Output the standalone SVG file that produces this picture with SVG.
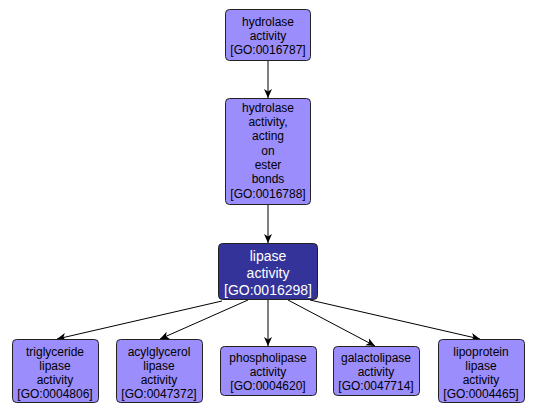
<svg xmlns="http://www.w3.org/2000/svg" width="538" height="414" viewBox="0 0 538 414">
<defs>
<marker id="ah" markerWidth="10" markerHeight="10" refX="9" refY="5" orient="auto" markerUnits="userSpaceOnUse">
<path d="M0,1 L9,5 L0,9 L2.5,5 Z" fill="#000"/>
</marker>
<style>
.n rect{fill:#9b8dfc;stroke:#222;stroke-width:1}
.d rect{fill:#33339a;stroke:#222;stroke-width:1}
text{font-family:"Liberation Sans",Arial,sans-serif;font-size:12px;text-anchor:middle;fill:#000}
.d text{fill:#fff;font-size:14px}
.e line{stroke:#000;stroke-width:1;marker-end:url(#ah)}
</style>
</defs>
<rect width="538" height="414" fill="#fff"/>
<g class="e" id="edges">
<line x1="268" y1="61" x2="268" y2="98"/>
<line x1="268" y1="205" x2="268" y2="243"/>
<line x1="222" y1="301" x2="57" y2="339"/>
<line x1="248" y1="300" x2="160" y2="339"/>
<line x1="268" y1="300" x2="268" y2="346"/>
<line x1="288" y1="300" x2="375" y2="346"/>
<line x1="310" y1="300" x2="480" y2="339"/>
</g>
<g class="n" id="GO0016787">
<rect x="225.5" y="9.5" width="85" height="51" rx="4"/>
<text x="268" y="26">hydrolase</text>
<text x="268" y="40">activity</text>
<text x="268" y="54">[GO:0016787]</text>
</g>
<g class="n" id="GO0016788">
<rect x="225.5" y="98.5" width="85" height="106" rx="4"/>
<text x="268" y="112">hydrolase</text>
<text x="268" y="126">activity,</text>
<text x="268" y="140">acting</text>
<text x="268" y="155">on</text>
<text x="268" y="169">ester</text>
<text x="268" y="183">bonds</text>
<text x="268" y="198">[GO:0016788]</text>
</g>
<g class="d" id="GO0016298">
<rect x="218.5" y="243.5" width="99" height="56" rx="4"/>
<text x="268" y="261">lipase</text>
<text x="268" y="278">activity</text>
<text x="268" y="295">[GO:0016298]</text>
</g>
<g class="n" id="GO0004806">
<rect x="12.5" y="339.5" width="86" height="63" rx="4"/>
<text x="55" y="356">triglyceride</text>
<text x="55" y="370">lipase</text>
<text x="55" y="384">activity</text>
<text x="55" y="398">[GO:0004806]</text>
</g>
<g class="n" id="GO0047372">
<rect x="116.5" y="339.5" width="86" height="63" rx="4"/>
<text x="159" y="356">acylglycerol</text>
<text x="159" y="370">lipase</text>
<text x="159" y="384">activity</text>
<text x="159" y="398">[GO:0047372]</text>
</g>
<g class="n" id="GO0004620">
<rect x="220.5" y="346.5" width="96" height="49" rx="4"/>
<text x="268" y="362">phospholipase</text>
<text x="268" y="376">activity</text>
<text x="268" y="390">[GO:0004620]</text>
</g>
<g class="n" id="GO0047714">
<rect x="333.5" y="346.5" width="86" height="49" rx="4"/>
<text x="376" y="362">galactolipase</text>
<text x="376" y="376">activity</text>
<text x="376" y="390">[GO:0047714]</text>
</g>
<g class="n" id="GO0004465">
<rect x="438.5" y="339.5" width="86" height="63" rx="4"/>
<text x="481" y="356">lipoprotein</text>
<text x="481" y="370">lipase</text>
<text x="481" y="384">activity</text>
<text x="481" y="398">[GO:0004465]</text>
</g>
</svg>
